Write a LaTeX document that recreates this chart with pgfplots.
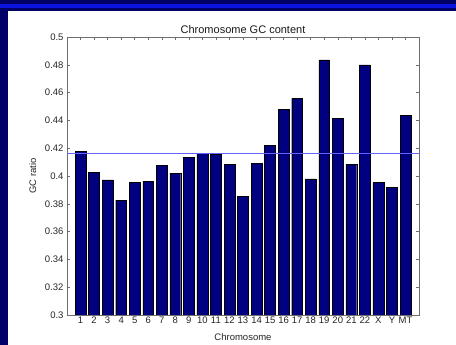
\documentclass[border=0pt]{standalone}
\usepackage{pgfplots}
\pgfplotsset{compat=1.18}
\usepackage{fontspec}
\setmainfont{Liberation Sans}
\definecolor{slidebg}{RGB}{0,0,102}
\definecolor{slidestripe}{RGB}{10,20,220}
\definecolor{barfill}{RGB}{0,0,128}
\definecolor{axisgray}{RGB}{110,110,110}
\definecolor{meanblue}{RGB}{100,100,255}

\begin{document}
\begin{tikzpicture}[x=1pt,y=1pt]
  % slide background and white figure panel
  \fill[slidebg] (0,0) rectangle (456,345);
  \fill[slidestripe] (0,337) rectangle (456,341);
  \fill[white] (8,0) rectangle (456,334);
  \useasboundingbox (0,0) rectangle (456,345);
  \begin{axis}[
    at={(67pt,30pt)}, anchor=south west,
    scale only axis, width=352pt, height=278pt,
    xmin=0, xmax=26, ymin=0.3, ymax=0.5,
    xtick={1,...,25},
    xticklabels={1,2,3,4,5,6,7,8,9,10,11,12,13,14,15,16,17,18,19,20,21,22,X,Y,MT},
    ytick={0.3,0.32,...,0.501},
    yticklabel style={/pgf/number format/.cd, fixed, precision=2},
    /pgf/number format/assume math mode=true,
    tick label style={font=\fontsize{9.5}{10}\selectfont, text=black!85},
    label style={font=\fontsize{9.5}{10}\selectfont, text=black!85},
    title style={font=\fontsize{11}{12}\selectfont, text=black!90, yshift=-6pt},
    title={Chromosome GC content},
    xlabel={Chromosome}, ylabel={GC ratio},
    xlabel style={yshift=-4pt},
    ylabel style={yshift=2pt},
    axis line style={axisgray},
    tick style={axisgray, thin},
    major tick length=3pt,
    tick align=inside,
    xtick pos=both, ytick pos=both,
    xticklabel style={inner sep=2pt},
  ]
    \addplot[ybar, bar width=0.8, fill=barfill, draw=black, line width=0.4pt]
      coordinates {
        (1,0.4176) (2,0.4025) (3,0.3972) (4,0.3826) (5,0.3953)
        (6,0.3963) (7,0.4078) (8,0.4020) (9,0.4133) (10,0.4162)
        (11,0.4159) (12,0.4085) (13,0.3855) (14,0.4090) (15,0.4222)
        (16,0.4481) (17,0.4558) (18,0.3979) (19,0.4836) (20,0.4416)
        (21,0.4085) (22,0.4800) (23,0.3953) (24,0.3917) (25,0.4438)
      };
    % genome-wide mean
    \addplot[meanblue, mark=none, line width=0.7pt]
      coordinates {(0,0.4164) (26,0.4164)};
  \end{axis}
\end{tikzpicture}
\end{document}
